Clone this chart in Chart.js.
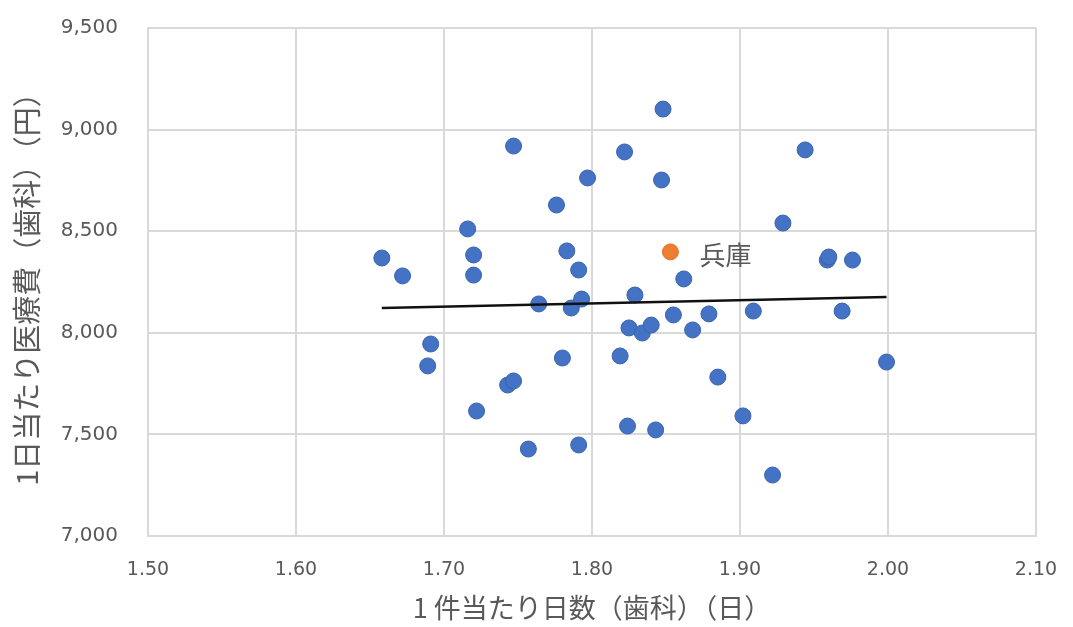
<!DOCTYPE html>
<html><head><meta charset="utf-8">
<script src="https://cdn.jsdelivr.net/npm/chart.js@4/dist/chart.umd.min.js"></script>
<style>html,body{margin:0;padding:0;background:#fff}canvas{display:block}</style>
</head><body>
<canvas id="c" width="1073" height="627"></canvas>
<script>
// 1件当たり日数（歯科）
const xDays = [1.658,1.672,1.691,1.689,1.716,1.720,1.720,1.722,1.747,1.743,1.747,1.757,1.764,1.776,1.780,1.783,1.791,1.786,1.793,1.791,1.797,1.822,1.819,1.824,1.825,1.829,1.834,1.840,1.843,1.848,1.847,1.855,1.862,1.868,1.879,1.885,1.902,1.909,1.922,1.929,1.944,1.959,1.960,1.976,1.969,1.999];
// 1日当たり医療費（歯科）
const yCost = [8368,8280,7945,7837,8511,8383,8284,7615,8919,7743,7763,7428,8142,8629,7876,8403,8309,8122,8166,7448,8762,8890,7886,7541,8024,8186,7999,8038,7522,9101,8752,8088,8265,8014,8093,7782,7591,8107,7300,8540,8900,8358,8373,8358,8107,7856];
const hyogoX = [1.853];
const hyogoY = [8398];
const hyogoName = '兵庫';
const trendX = [1.658, 1.999];
const trendY = [8122, 8176];
const xTicks = [1.50,1.60,1.70,1.80,1.90,2.00,2.10];
const yTicks = [7000,7500,8000,8500,9000,9500];
const xTitle = '1 件当たり日数（歯科）（日）';
const yTitle = '1日当たり医療費（歯科）（円）';

const toPts = (xs, ys) => xs.map((x, i) => ({x, y: ys[i]}));
const gray = '#595959';
const gridC = '#D9D9D9';

const labelPlugin = {
  id: 'hyogoLabel',
  afterDatasetsDraw(chart) {
    const ctx = chart.ctx;
    const xs = chart.scales.x, ys = chart.scales.y;
    ctx.save();
    ctx.font = '26px "Noto Sans CJK JP"';
    ctx.fillStyle = gray;
    ctx.textBaseline = 'middle';
    ctx.textAlign = 'left';
    hyogoX.forEach((v, i) => {
      ctx.fillText(hyogoName, xs.getPixelForValue(v) + 29, ys.getPixelForValue(hyogoY[i]) + 3);
    });
    ctx.restore();
  }
};

new Chart(document.getElementById('c'), {
  type: 'scatter',
  data: {
    datasets: [
      {
        label: 'trend', type: 'line', data: toPts(trendX, trendY),
        borderColor: '#111', borderWidth: 2.5, pointRadius: 0, fill: false, order: 0
      },
      {
        label: hyogoName, data: toPts(hyogoX, hyogoY),
        backgroundColor: '#ED7D31', borderColor: '#E07428', borderWidth: 1, pointRadius: 8, order: 1
      },
      {
        label: 'prefectures', data: toPts(xDays, yCost),
        backgroundColor: '#4472C4', borderColor: '#3B64AD', borderWidth: 1, pointRadius: 8, order: 2
      }
    ]
  },
  options: {
    responsive: false,
    devicePixelRatio: 1,
    animation: false,
    layout: { padding: { left: 0, right: 37, top: 28, bottom: 0 } },
    plugins: { legend: { display: false }, tooltip: { enabled: false } },
    scales: {
      x: {
        type: 'linear', min: 1.5, max: 2.1,
        afterBuildTicks: s => { s.ticks = xTicks.map(v => ({value: v})); },
        afterFit: s => { s.height = 91; s.paddingLeft = 0; s.paddingRight = 0; },
        grid: { color: gridC, lineWidth: 2, drawTicks: false },
        border: { color: gridC, width: 2 },
        ticks: { color: gray, padding: 23, font: { family: '"DejaVu Sans"', size: 19 },
                 callback: v => Number(v).toFixed(2) },
        title: { display: true, text: xTitle, color: gray,
                 font: { family: '"Noto Sans CJK JP"', size: 27 }, padding: { top: 0, bottom: 3 } }
      },
      y: {
        type: 'linear', min: 7000, max: 9500,
        afterBuildTicks: s => { s.ticks = yTicks.map(v => ({value: v})); },
        afterFit: s => { s.width = 148; s.paddingTop = 0; s.paddingBottom = 0; },
        grid: { color: gridC, lineWidth: 2, drawTicks: false },
        border: { color: gridC, width: 2 },
        ticks: { color: gray, padding: 30, font: { family: '"DejaVu Sans"', size: 20 },
                 callback: v => Number(v).toLocaleString('en-US') },
        title: { display: true, text: yTitle, color: gray,
                 font: { family: '"Noto Sans CJK JP"', size: 29 }, padding: { top: 10, bottom: 0 } }
      }
    }
  },
  plugins: [labelPlugin]
});
</script>
</body></html>
